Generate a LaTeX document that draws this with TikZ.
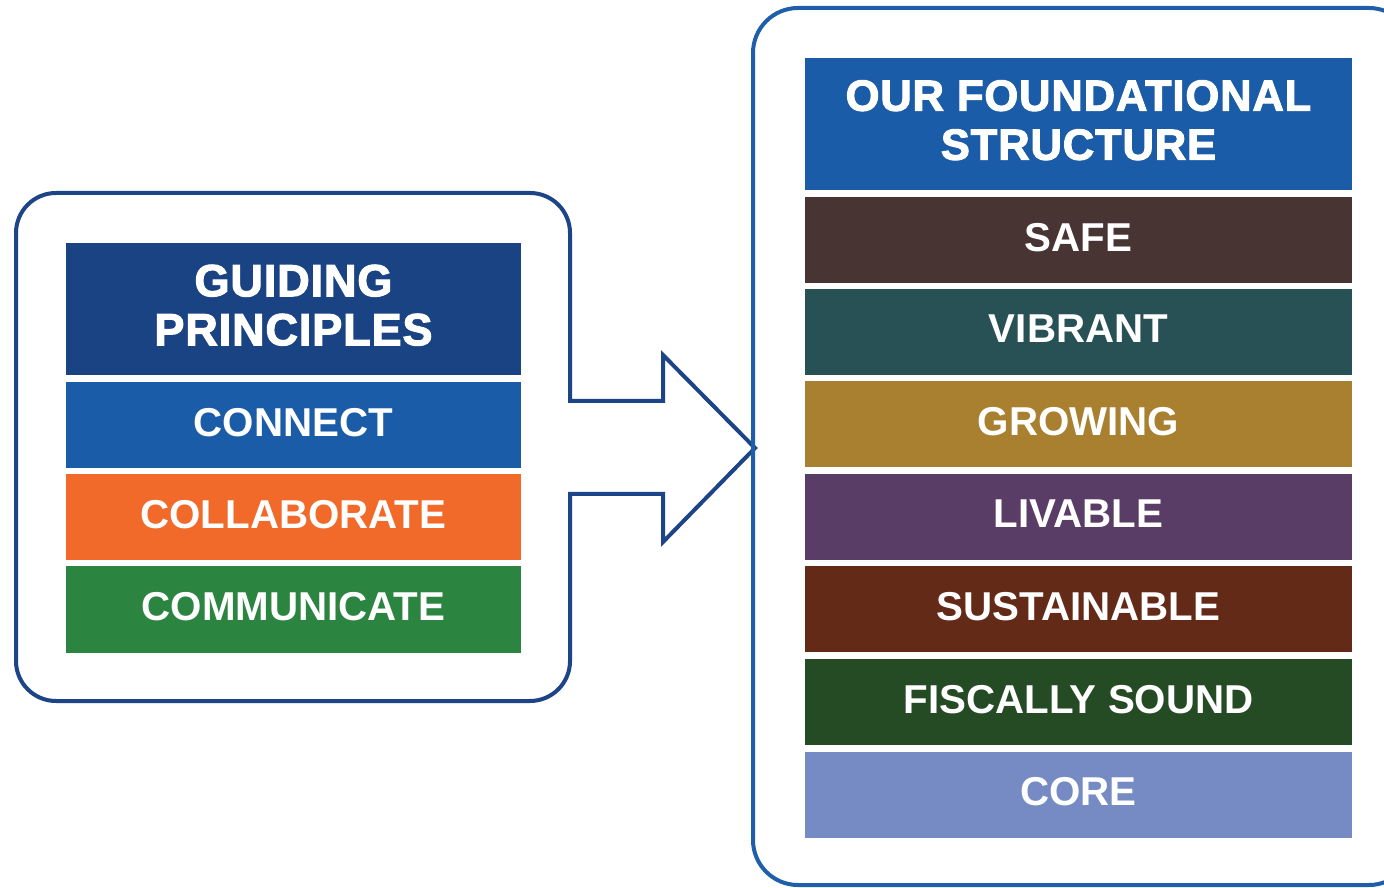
\documentclass[tikz,border=0pt]{standalone}
\usepackage{fontspec}
\setmainfont{Liberation Sans}
\newfontfamily\hdrfont{Liberation Sans}[BoldFeatures={FakeBold=2.5}, LetterSpace=2]
\definecolor{frameL}{HTML}{1D4486}
\definecolor{frameR}{HTML}{1F5FAA}
\definecolor{cGuide}{HTML}{1A4384}
\definecolor{cConnect}{HTML}{1B5CA8}
\definecolor{cCollab}{HTML}{F26A2A}
\definecolor{cComm}{HTML}{2C8441}
\definecolor{cFound}{HTML}{1B5CA8}
\definecolor{cSafe}{HTML}{483433}
\definecolor{cVibrant}{HTML}{285155}
\definecolor{cGrowing}{HTML}{A88030}
\definecolor{cLivable}{HTML}{5A3D66}
\definecolor{cSustain}{HTML}{632A18}
\definecolor{cFiscal}{HTML}{244B24}
\definecolor{cCore}{HTML}{768BC4}
\begin{document}
\begin{tikzpicture}[x=1pt,y=1pt,
  rowL/.style={rectangle, inner sep=0pt, minimum width=455pt, minimum height=86pt,
    text=white, text depth=6pt, font=\fontsize{40.3}{44}\selectfont\bfseries},
  rowR/.style={rectangle, inner sep=0pt, minimum width=547pt, minimum height=86pt,
    text=white, text depth=6pt, font=\fontsize{40.3}{44}\selectfont\bfseries},
  hdrL/.style={rowL, minimum height=132pt, align=center, text depth=8pt,
    font=\hdrfont\fontsize{45}{49}\selectfont\bfseries},
  hdrR/.style={rowR, minimum height=132pt, align=center, text depth=8pt,
    font=\hdrfont\fontsize{43.5}{49}\selectfont\bfseries},
  frame/.style={line width=4pt, line join=miter}
]
\useasboundingbox (0,0) rectangle (1384,887);
\fill[white] (0,0) rectangle (1384,887);

% left frame with arrow
\draw[frame, draw=frameL] (56,694) -- (530,694)
  arc[start angle=90, end angle=0, radius=40] -- (570,486) -- (663,486) -- (663,532)
  -- (755,439) -- (663,345) -- (663,393) -- (570,393) -- (570,226)
  arc[start angle=0, end angle=-90, radius=40] -- (56,186)
  arc[start angle=270, end angle=180, radius=40] -- (16,654)
  arc[start angle=180, end angle=90, radius=40] -- cycle;

% right frame
\draw[frame, draw=frameR, rounded corners=45pt] (753,2) rectangle (1414,879);

% left rows
\node[hdrL, fill=cGuide] (guide) at (293.5,578) {GUIDING\\PRINCIPLES};
\node[rowL, fill=cConnect] (connect) at (293.5,462) {CONNECT};
\node[rowL, fill=cCollab] (collab) at (293.5,370) {COLLABORATE};
\node[rowL, fill=cComm] (comm) at (293.5,277.5) {COMMUNICATE};

% right rows
\node[hdrR, fill=cFound] (found) at (1078.5,763) {OUR FOUNDATIONAL\\STRUCTURE};
\node[rowR, fill=cSafe] (safe) at (1078.5,647) {SAFE};
\node[rowR, fill=cVibrant] (vibrant) at (1078.5,555) {VIBRANT};
\node[rowR, fill=cGrowing] (growing) at (1078.5,462.5) {GROWING};
\node[rowR, fill=cLivable] (livable) at (1078.5,370) {LIVABLE};
\node[rowR, fill=cSustain] (sustain) at (1078.5,278) {SUSTAINABLE};
\node[rowR, fill=cFiscal] (fiscal) at (1078.5,185) {FISCALLY SOUND};
\node[rowR, fill=cCore] (core) at (1078.5,92.5) {CORE};
\end{tikzpicture}
\end{document}
